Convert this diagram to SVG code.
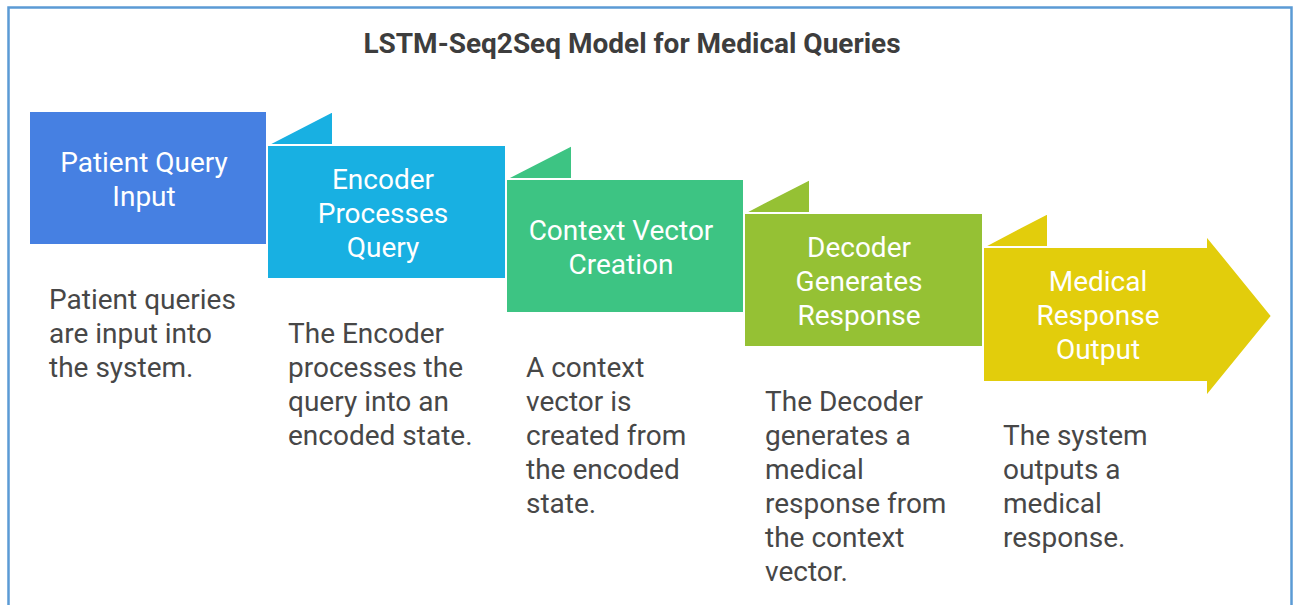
<svg xmlns="http://www.w3.org/2000/svg" width="1294" height="605" viewBox="0 0 1294 605">
<style>
.frame{fill:#fff;stroke:#5b9bd5;stroke-width:2.5}
.shape{stroke:#fff;stroke-width:2;stroke-linejoin:miter}
.lbl{font-family:Roboto,"Liberation Sans",sans-serif;font-size:28px;fill:#fff;text-anchor:middle}
.desc{font-family:Roboto,"Liberation Sans",sans-serif;font-size:28px;fill:#474747}
.title{font-family:Roboto,"Liberation Sans",sans-serif;font-size:28px;font-weight:bold;fill:#3d3d3d;text-anchor:middle}
.c1{fill:#4680e2}.c2{fill:#18b0e2}.c3{fill:#3dc483}.c4{fill:#95c134}.c5{fill:#e2cd0c}
</style>
<rect class="frame" x="8.5" y="7.5" width="1283" height="620"/>
<text class="title" x="632" y="53">LSTM-Seq2Seq Model for Medical Queries</text>
<g id="connectors"></g>
<g id="step1">
<rect class="shape c1" x="29" y="111" width="238" height="134"/>
<text class="lbl" x="144" y="172">Patient Query</text>
<text class="lbl" x="144" y="206">Input</text>
<text class="desc" x="49" y="309">Patient queries</text>
<text class="desc" x="49" y="343">are input into</text>
<text class="desc" x="49" y="377">the system.</text>
</g>
<g id="step2">
<polygon class="shape c2" points="267,145 333,111 333,145"/>
<rect class="shape c2" x="267" y="145" width="239" height="134"/>
<text class="lbl" x="383" y="189">Encoder</text>
<text class="lbl" x="383" y="223">Processes</text>
<text class="lbl" x="383" y="257">Query</text>
<text class="desc" x="288" y="343">The Encoder</text>
<text class="desc" x="288" y="377">processes the</text>
<text class="desc" x="288" y="411">query into an</text>
<text class="desc" x="288" y="445">encoded state.</text>
</g>
<g id="step3">
<polygon class="shape c3" points="506,179 572,145 572,179"/>
<rect class="shape c3" x="506" y="179" width="238" height="134"/>
<text class="lbl" x="621" y="240">Context Vector</text>
<text class="lbl" x="621" y="274">Creation</text>
<text class="desc" x="526" y="377">A context</text>
<text class="desc" x="526" y="411">vector is</text>
<text class="desc" x="526" y="445">created from</text>
<text class="desc" x="526" y="479">the encoded</text>
<text class="desc" x="526" y="513">state.</text>
</g>
<g id="step4">
<polygon class="shape c4" points="744,213 810,179 810,213"/>
<rect class="shape c4" x="744" y="213" width="239" height="134"/>
<text class="lbl" x="859" y="257">Decoder</text>
<text class="lbl" x="859" y="291">Generates</text>
<text class="lbl" x="859" y="325">Response</text>
<text class="desc" x="765" y="411">The Decoder</text>
<text class="desc" x="765" y="445">generates a</text>
<text class="desc" x="765" y="479">medical</text>
<text class="desc" x="765" y="513">response from</text>
<text class="desc" x="765" y="547">the context</text>
<text class="desc" x="765" y="581">vector.</text>
</g>
<g id="step5">
<polygon class="shape c5" points="983,247 1048,213 1048,247"/>
<polygon class="shape c5" points="983,247 1206,247 1206,235 1272,316 1206,397 1206,382 983,382"/>
<text class="lbl" x="1098" y="291">Medical</text>
<text class="lbl" x="1098" y="325">Response</text>
<text class="lbl" x="1098" y="359">Output</text>
<text class="desc" x="1003" y="445">The system</text>
<text class="desc" x="1003" y="479">outputs a</text>
<text class="desc" x="1003" y="513">medical</text>
<text class="desc" x="1003" y="547">response.</text>
</g>
</svg>
